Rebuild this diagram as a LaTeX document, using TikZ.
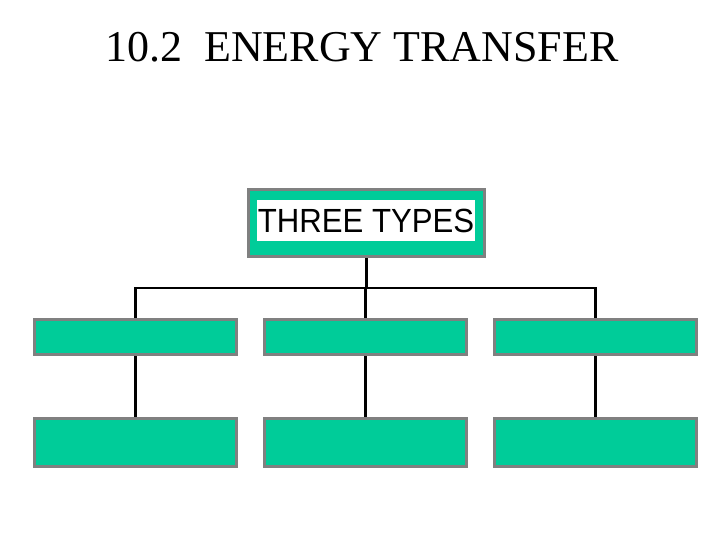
\documentclass[tikz,border=0pt]{standalone}
\usepackage{fontspec}
\setmainfont{Liberation Serif}
\newfontfamily\arialfont{Liberation Sans}
\definecolor{boxteal}{RGB}{0,204,153}
\definecolor{boxgray}{RGB}{128,128,128}
\tikzset{
  typebox/.style={draw=boxgray, line width=3pt, fill=boxteal, inner sep=0pt},
  link/.style={line width=2.5pt},
}
\begin{document}
\begin{tikzpicture}[x=1pt,y=-1pt]
  \useasboundingbox (0,0) rectangle (720,540);
  \def \colsep {230}
  \def \wbox {202pt}

  \node[anchor=base, font=\fontsize{44}{50}\selectfont] (title) at (362,62) {10.2\ \ ENERGY TRANSFER};

  \node[typebox, minimum width=236pt, minimum height=67pt] (types) at (366.5,223) {};
  \node[fill=white, inner sep=0pt, minimum width=218pt, minimum height=41pt,
        font=\arialfont\fontsize{33.5}{36}\selectfont] (typeslabel) at (366,220.5) {\scalebox{0.93}[1]{THREE TYPES}};

  \foreach \i in {1,2,3}
  {
    \node[typebox, minimum width=\wbox, minimum height=35pt] (kind\i) at ({135.5 + \colsep*(\i-1)},337) {};
    \node[typebox, minimum width=\wbox, minimum height=48pt] (example\i) at ({135.5 + \colsep*(\i-1)},442.5) {};
    \draw[link] (types.south) -- ++(0,30) -| (kind\i.north);
    \draw[link] (kind\i.south) -- (example\i.north);
  }
\end{tikzpicture}
\end{document}
